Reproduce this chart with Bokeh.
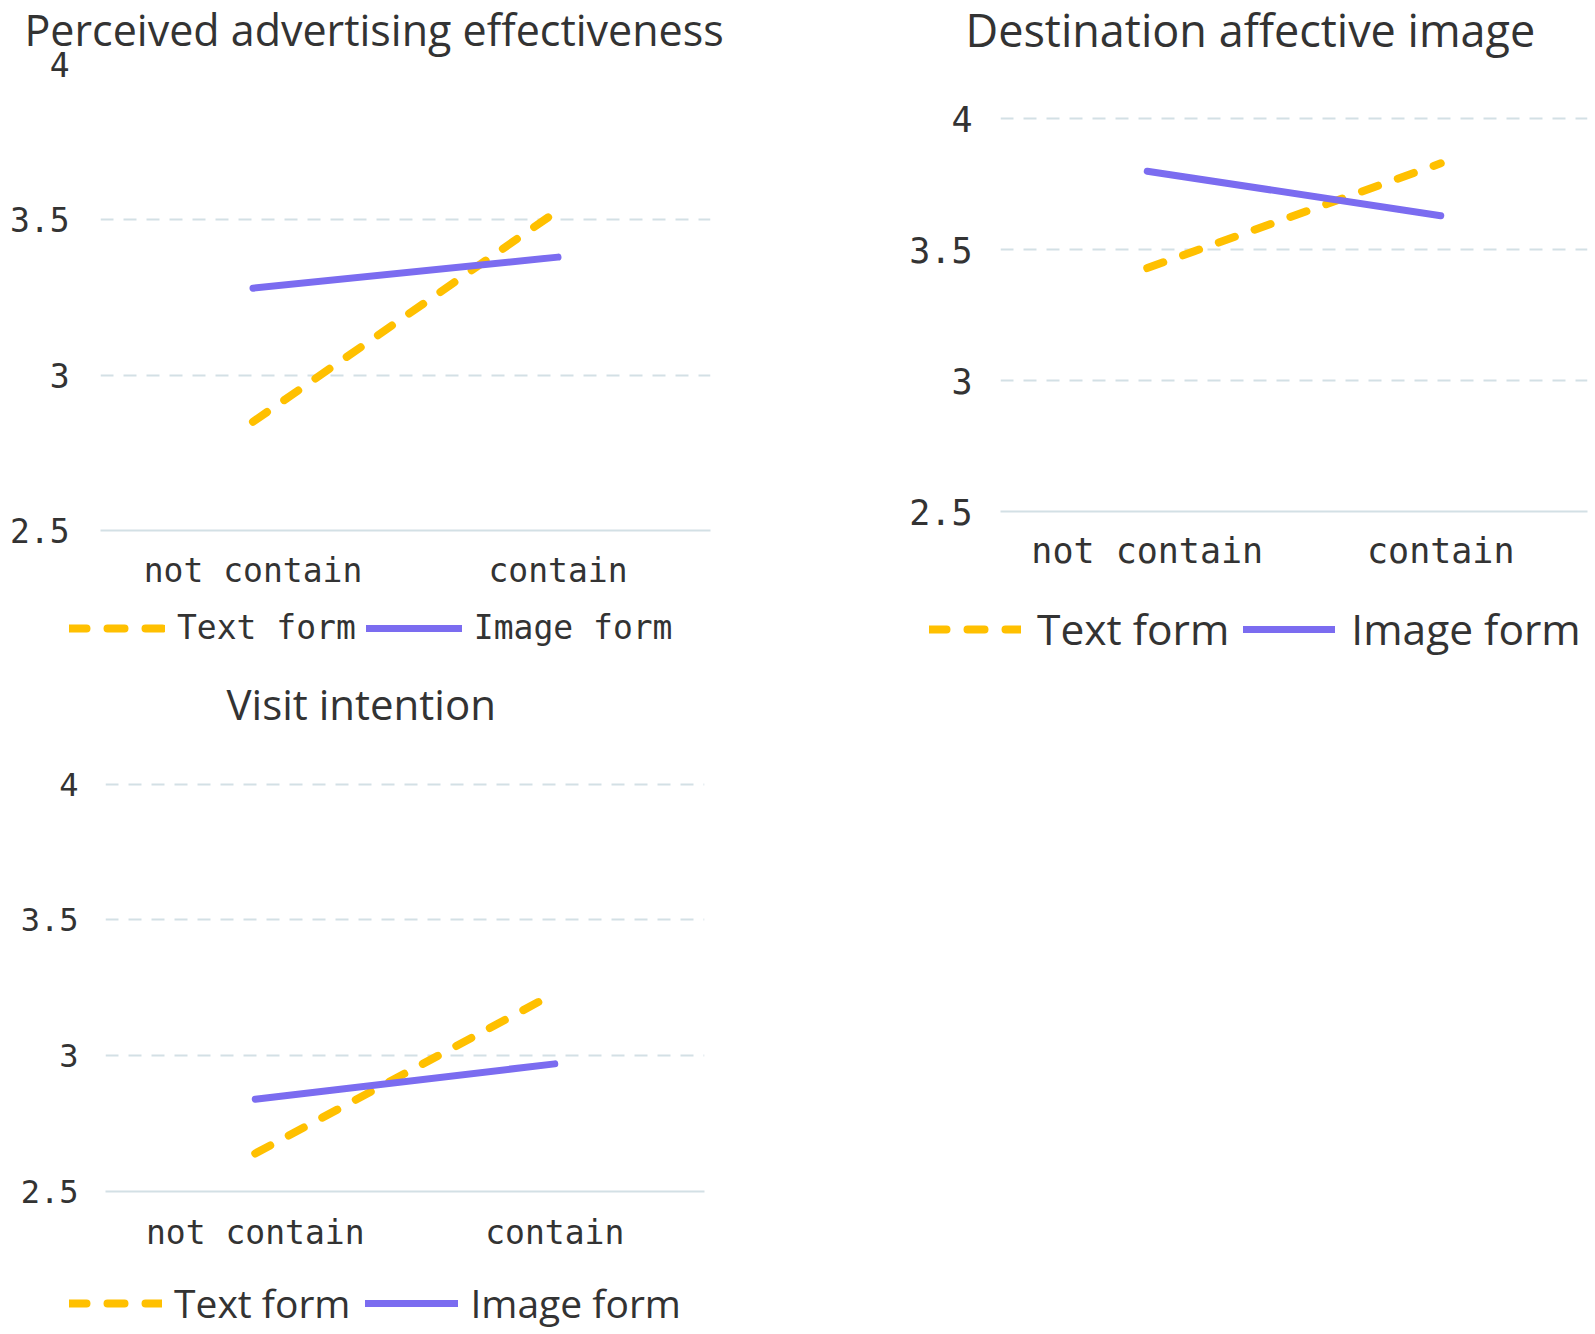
from bokeh.plotting import figure
from bokeh.models import FactorRange, Range1d, FixedTicker, Legend, LegendItem, Title, Plot
from bokeh.layouts import row, column
from bokeh.embed import file_html
from bokeh.resources import INLINE

# ---- data ----
conditions = ["not contain", "contain"]
series_names = ["Text form", "Image form"]
y_ticks = [2.5, 3, 3.5, 4]
y_tick_labels = ["2.5", "3", "3.5", "4"]

title_pae = "Perceived advertising effectiveness"
title_dai = "Destination affective image"
title_vi = "Visit intention"

pae_text = [2.85, 3.53]
pae_image = [3.28, 3.38]
dai_text = [3.43, 3.83]
dai_image = [3.80, 3.63]
vi_text = [2.64, 3.23]
vi_image = [2.84, 2.97]

ORANGE = "#FFC000"
PURPLE = "#7B6CF0"
GRID = "#D3E0E5"
TXT = "#333333"
MONO = "DejaVu Sans Mono"
SANS = "Open Sans"

TEXT_STYLE = dict(line_color=ORANGE, line_width=8, line_dash="17 21", line_cap="round")
IMAGE_STYLE = dict(line_color=PURPLE, line_width=7, line_cap="round")

HAS_FRAME_ALIGN = "frame_align" in Plot.properties()


def no_align(p):
    if HAS_FRAME_ALIGN:
        p.frame_align = False
    return p


def chart(title, text_vals, image_vals, width, height, mb_left, mb_right, mb_top, mb_bottom,
          y_end, grid_ticks, tick_size, cat_size, cat_standoff, ytick_standoff,
          title_offset, title_size, title_gap, lift=0):
    p = figure(x_range=FactorRange(factors=conditions), y_range=Range1d(2.5, y_end),
               width=width, height=height + lift, output_backend="svg", toolbar_location=None,
               min_border_left=mb_left, min_border_right=mb_right,
               min_border_top=mb_top + lift, min_border_bottom=mb_bottom)
    no_align(p)
    if lift:
        p.margin = (-lift, 0, 0, 0)
    p.title = Title(text=title, align="left", offset=title_offset, text_font=SANS,
                    text_font_size=title_size, text_font_style="normal",
                    text_color=TXT, vertical_align="middle", standoff=0)
    if title_gap is not None:
        p.add_layout(Title(text=" ", text_font_size="1px", standoff=title_gap), "above")
    p.outline_line_color = None
    p.background_fill_color = "white"
    p.xgrid.visible = False
    p.ygrid.ticker = FixedTicker(ticks=grid_ticks)
    p.ygrid.grid_line_color = GRID
    p.ygrid.grid_line_width = 2
    p.ygrid.grid_line_dash = "13 10"

    p.yaxis.ticker = FixedTicker(ticks=y_ticks)
    p.yaxis.major_label_overrides = {t: l for t, l in zip(y_ticks, y_tick_labels)}
    p.yaxis.axis_line_color = None
    p.yaxis.major_tick_line_color = None
    p.yaxis.minor_tick_line_color = None
    p.yaxis.major_tick_out = 0
    p.yaxis.major_label_standoff = ytick_standoff
    p.yaxis.major_label_text_font = MONO
    p.yaxis.major_label_text_font_size = tick_size
    p.yaxis.major_label_text_color = TXT

    p.xaxis.axis_line_color = GRID
    p.xaxis.axis_line_width = 2
    p.xaxis.major_tick_line_color = None
    p.xaxis.major_tick_out = 0
    p.xaxis.major_label_standoff = cat_standoff
    p.xaxis.major_label_text_font = MONO
    p.xaxis.major_label_text_font_size = cat_size
    p.xaxis.major_label_text_color = TXT

    p.line(x=conditions, y=text_vals, **TEXT_STYLE)
    p.line(x=conditions, y=image_vals, **IMAGE_STYLE)
    return p


def legend_fig(text_vals, image_vals, width, height, loc, font, size, glyph_w, standoff, spacing):
    q = figure(x_range=FactorRange(factors=conditions), y_range=Range1d(2.5, 4.0),
               width=width, height=height, output_backend="svg", toolbar_location=None,
               x_axis_location=None, y_axis_location=None, min_border=0)
    no_align(q)
    q.grid.visible = False
    q.outline_line_color = None
    r_text = q.line(x=conditions, y=text_vals, visible=False, **TEXT_STYLE)
    r_img = q.line(x=conditions, y=image_vals, visible=False, **IMAGE_STYLE)
    legend = Legend(items=[LegendItem(label=series_names[0], renderers=[r_text]),
                           LegendItem(label=series_names[1], renderers=[r_img])],
                    orientation="horizontal", location=loc, click_policy="none",
                    label_text_font=font, label_text_font_size=size,
                    label_text_color=TXT, glyph_width=glyph_w, label_standoff=standoff,
                    spacing=spacing, padding=0, margin=0, border_line_color=None,
                    background_fill_alpha=0)
    q.add_layout(legend, "center")
    return q


p1 = chart(title_pae, pae_text, pae_image, 880, 595, 100, 170, 64, 65,
           4.0, [3, 3.5], "33px", "33px", 20, 31, -76, "43px", 2, lift=2)
l1 = legend_fig(pae_text, pae_image, 880, 70, (69, 18), MONO, "33px", 96, 12, 10)

p3 = chart(title_vi, vi_text, vi_image, 880, 590, 105, 176, 78, 64,
           4.15, [3, 3.5, 4], "32px", "33px", 21, 27, 121, "42px", 8)
l3 = legend_fig(vi_text, vi_image, 880, 75, (69, 1), SANS, "39px", 93, 12, 15)

p2 = chart(title_dai, dai_text, dai_image, 710, 595, 120, 3, 66, 84,
           4.2, [3, 3.5, 4], "35px", "35px", 19, 28, -35, "45px", 2.5, lift=4)
l2 = legend_fig(dai_text, dai_image, 710, 70, (49, 8), SANS, "42.5px", 92, 16, 14)

layout = row(column(p1, l1, p3, l3), column(p2, l2))
open("out.html", "w").write(file_html(layout, INLINE))
